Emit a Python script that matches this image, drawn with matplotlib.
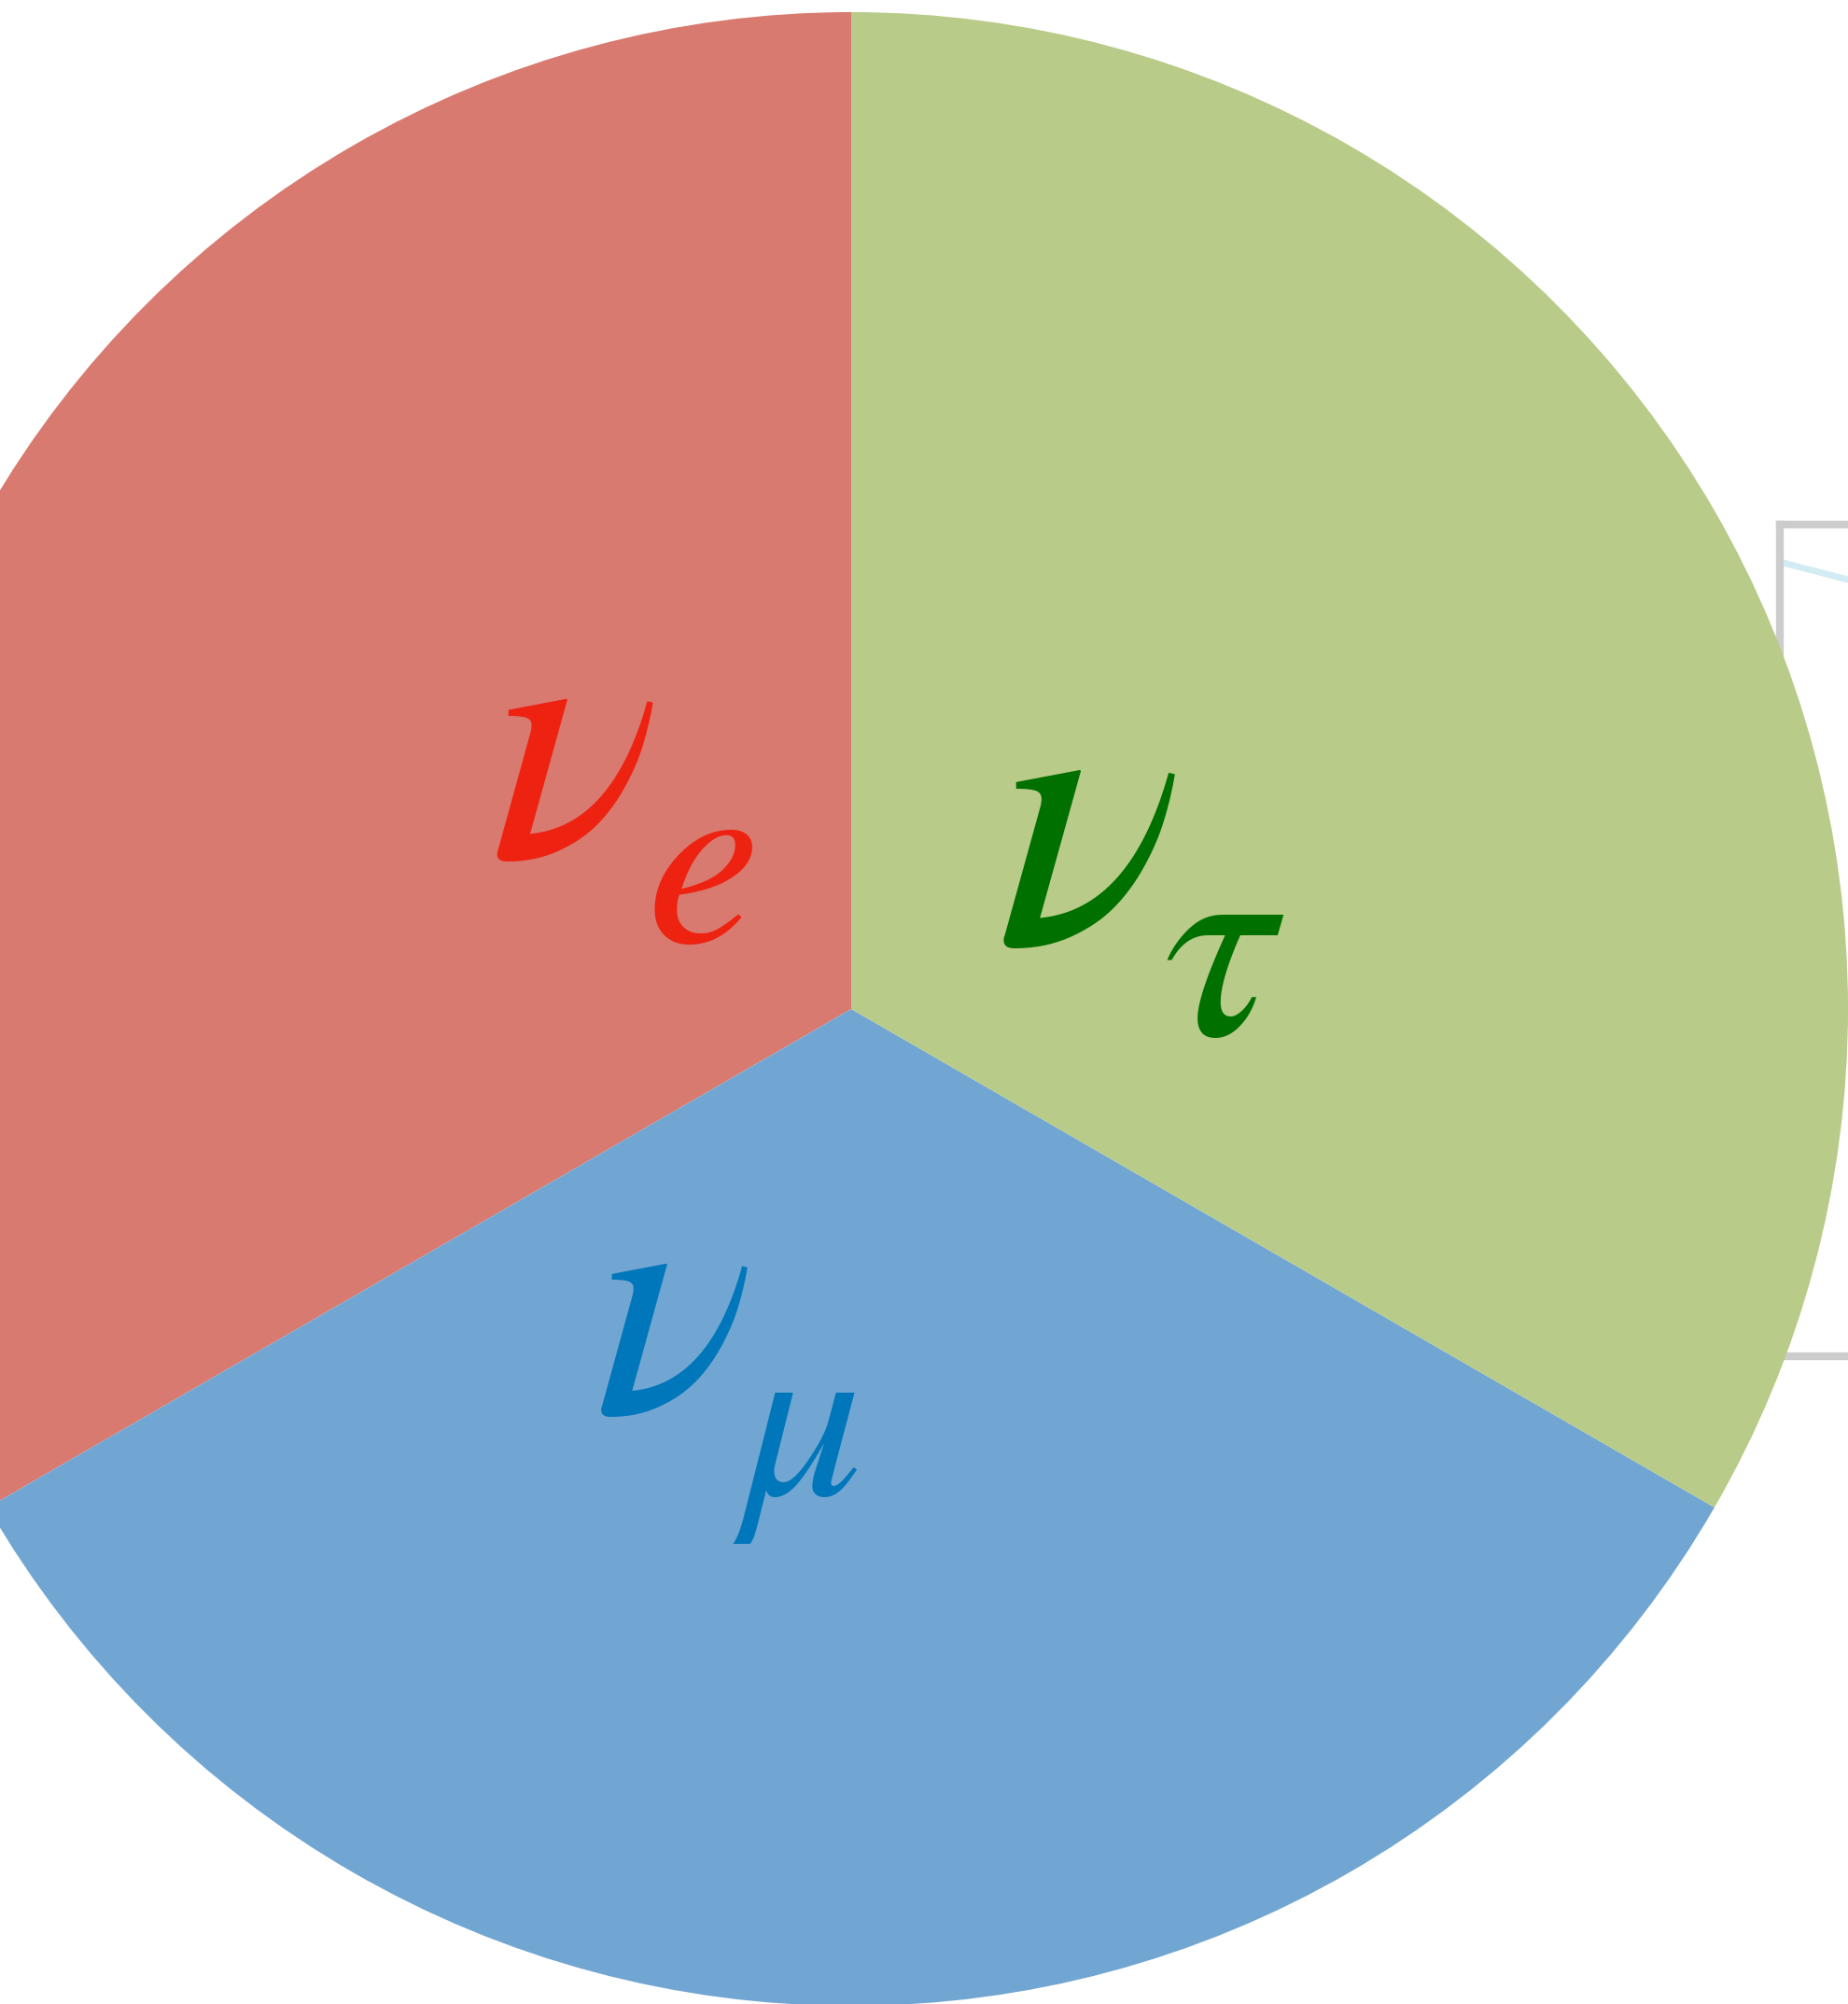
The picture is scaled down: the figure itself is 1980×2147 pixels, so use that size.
import matplotlib
matplotlib.use("Agg")
import matplotlib.pyplot as plt

# Flavour shares (equal thirds) and styling per flavour
flavour_sym = r"$\nu$"
flavour_sub = [r"$e$", r"$\mu$", r"$\tau$"]
shares = [1 / 3, 1 / 3, 1 / 3]
wedge_colors = ["#D87A6F", "#72A6D2", "#B8CB88"]
label_colors = ["#EE2211", "#0077BB", "#007000"]

# Background trace shown in the framed panel on the right
trace_x = [0.0, 1.0]
trace_y = [0.955, 0.928]

W, H = 1981, 2147
plt.rcParams["mathtext.fontset"] = "stix"

fig = plt.figure(figsize=(W / 100, H / 100), dpi=100)

# Framed panel partially hidden behind the pie
panel = fig.add_axes([1907 / W, (H - 1453) / H, (2000 - 1907) / W, (1453 - 562) / H], zorder=0)
panel.plot(trace_x, trace_y, color="#D3EBF3", lw=5)
panel.set_xlim(0, 1)
panel.set_ylim(0, 1)
panel.set_xticks([])
panel.set_yticks([])
for side, sp in panel.spines.items():
    sp.set_color("#CCCCCC")
    sp.set_linewidth(6)

# Main pie in pixel-like coordinates
ax = fig.add_axes([0, 0, 1, 1], zorder=1)
ax.patch.set_alpha(0)
cx, cy, r = 912, H - 1081, 1068
ax.pie(shares, colors=wedge_colors, startangle=90, counterclock=True,
       center=(cx, cy), radius=r, wedgeprops=dict(linewidth=0))
ax.set_xlim(0, W)
ax.set_ylim(0, H)
ax.set_aspect("auto")
ax.axis("off")

# Symbol and subscript placed separately for a deeper subscript drop
sym_pos = [(524, H - 917), (636, H - 1512), (1066, H - 1009)]
sym_size = [274, 257, 301]
sub_pos = [(692, H - 1010), (785, H - 1601), (1246, H - 1109)]
sub_scale = 0.72
for (x, y), fs, (sx, sy), sub, c in zip(sym_pos, sym_size, sub_pos, flavour_sub, label_colors):
    ax.text(x, y, flavour_sym, fontsize=fs, color=c, ha="left", va="baseline")
    ax.text(sx, sy, sub, fontsize=fs * sub_scale, color=c, ha="left", va="baseline")

fig.savefig("out.png", dpi=100)
